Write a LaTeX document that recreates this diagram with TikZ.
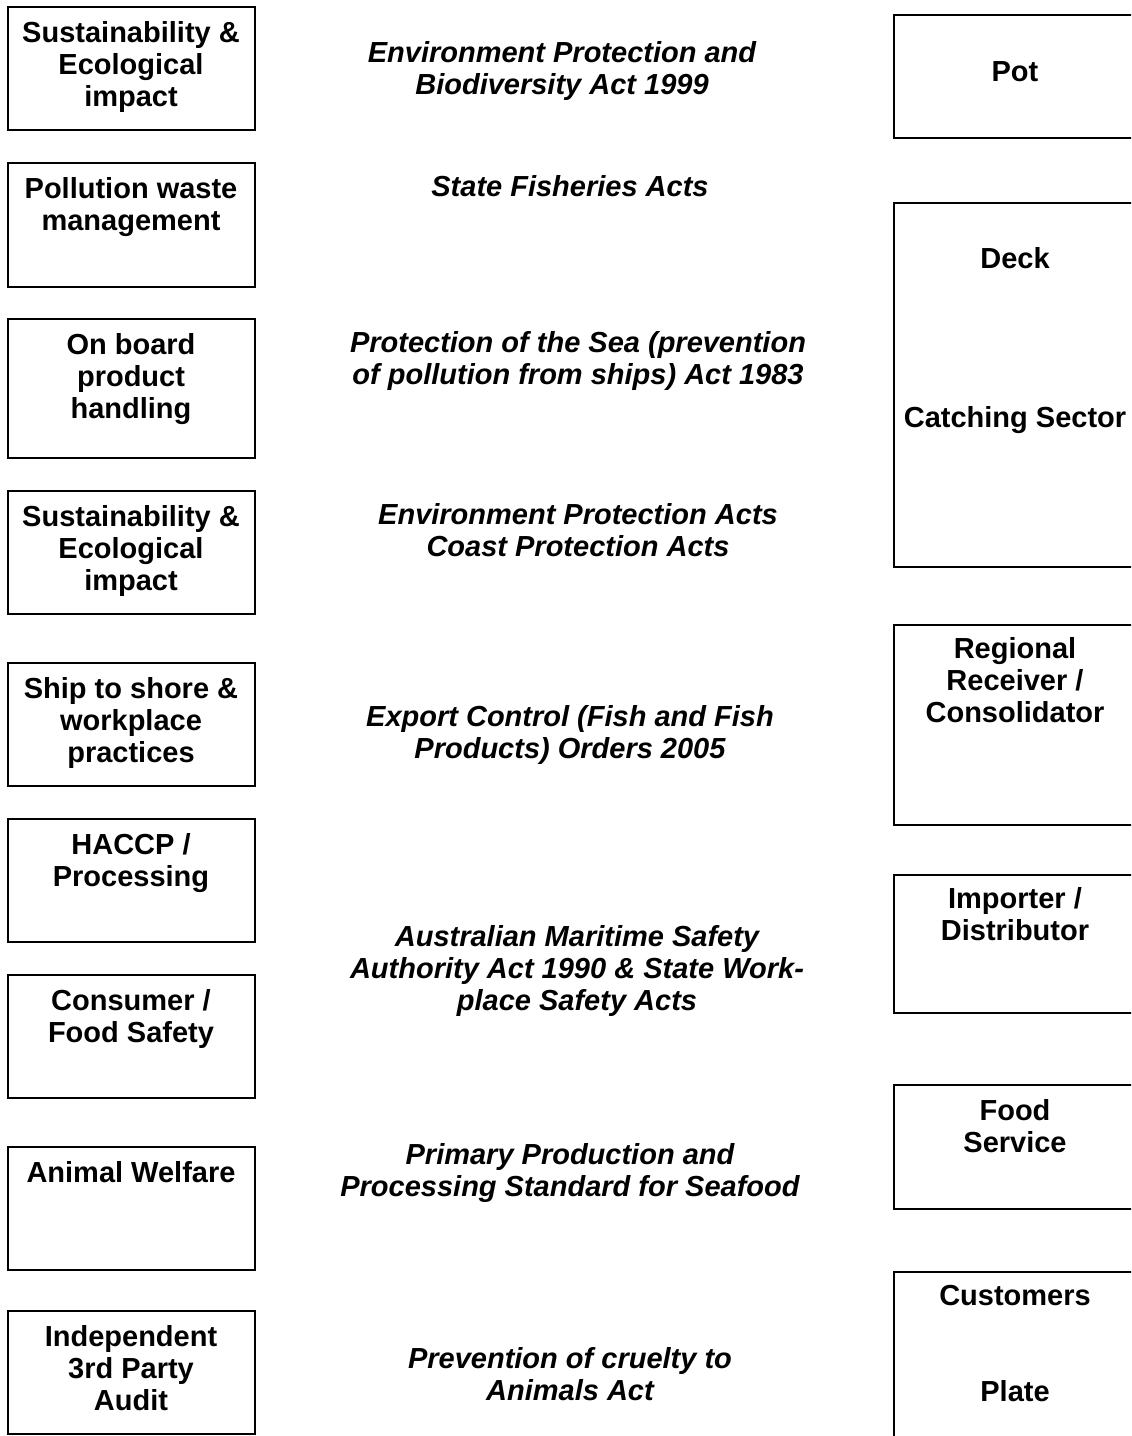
\documentclass[tikz,border=0pt]{standalone}
\usepackage{fontspec}
\setmainfont{Liberation Sans}
\begin{document}
\begin{tikzpicture}[x=0.5pt,y=-0.5pt,
  box/.style={draw=black, line width=1.2pt, anchor=north west, inner sep=0pt, outer sep=0pt, minimum width=123.5pt},
  lbl/.style={anchor=north, align=center, inner sep=0pt, font=\fontsize{14.5}{16}\selectfont\bfseries},
  law/.style={anchor=north, align=center, inner sep=0pt, font=\fontsize{14.5}{16}\selectfont\bfseries\itshape}]
\useasboundingbox (0,0) rectangle (1131,1436);
\clip (0,0) rectangle (1131,1436);
\fill[white] (0,0) rectangle (1131,1436);

% left column
\node[box, minimum height=61.5pt] (l1) at (8,7) {};
\node[lbl] (t1) at (131,21) {Sustainability \&\\Ecological\\impact};
\node[box, minimum height=62pt] (l2) at (8,163) {};
\node[lbl] (t2) at (131,177) {Pollution waste\\management};
\node[box, minimum height=69.5pt] (l3) at (8,319) {};
\node[lbl] (t3) at (131,333) {On board\\product\\handling};
\node[box, minimum height=61.5pt] (l4) at (8,491) {};
\node[lbl] (t4) at (131,505) {Sustainability \&\\Ecological\\impact};
\node[box, minimum height=61.5pt] (l5) at (8,663) {};
\node[lbl] (t5) at (131,677) {Ship to shore \&\\workplace\\practices};
\node[box, minimum height=61.5pt] (l6) at (8,819) {};
\node[lbl] (t6) at (131,833) {HACCP /\\Processing};
\node[box, minimum height=61.5pt] (l7) at (8,975) {};
\node[lbl] (t7) at (131,989) {Consumer /\\Food Safety};
\node[box, minimum height=61.5pt] (l8) at (8,1147) {};
\node[lbl] (t8) at (131,1161) {Animal Welfare};
\node[box, minimum height=61.5pt] (l9) at (8,1311) {};
\node[lbl] (t9) at (131,1325) {Independent\\3rd Party\\Audit};

% middle column
\node[law] (m1) at (562,41) {Environment Protection and\\Biodiversity Act 1999};
\node[law] (m2) at (570,175) {State Fisheries Acts};
\node[law] (m3) at (578,331) {Protection of the Sea (prevention\\of pollution from ships) Act 1983};
\node[law] (m4) at (578,503) {Environment Protection Acts\\Coast Protection Acts};
\node[law] (m5) at (570,705) {Export Control (Fish and Fish\\Products) Orders 2005};
\node[law] (m6) at (577,925) {Australian Maritime Safety\\Authority Act 1990 \& State Work-\\place Safety Acts};
\node[law] (m7) at (570,1143) {Primary Production and\\Processing Standard for Seafood};
\node[law] (m8) at (570,1347) {Prevention of cruelty to\\Animals Act};

% right column
\node[box, minimum height=61.5pt] (r1) at (894,15) {};
\node[lbl] (p1) at (1015,61) {Pot};
\node[box, minimum height=182pt] (r2) at (894,203) {};
\node[lbl] (p2) at (1015,247) {Deck};
\node[lbl] (p3) at (1015,406) {Catching Sector};
\node[box, minimum height=100pt] (r3) at (894,625) {};
\node[lbl] (p4) at (1015,637) {Regional\\Receiver /\\Consolidator};
\node[box, minimum height=69pt] (r4) at (894,875) {};
\node[lbl] (p5) at (1015,887) {Importer /\\Distributor};
\node[box, minimum height=62pt] (r5) at (894,1085) {};
\node[lbl] (p6) at (1015,1099) {Food\\Service};
\node[box, minimum height=95pt] (r6) at (894,1272) {};
\node[lbl] (p7) at (1015,1285) {Customers};
\node[lbl] (p8) at (1015,1380) {Plate};
\end{tikzpicture}
\end{document}
